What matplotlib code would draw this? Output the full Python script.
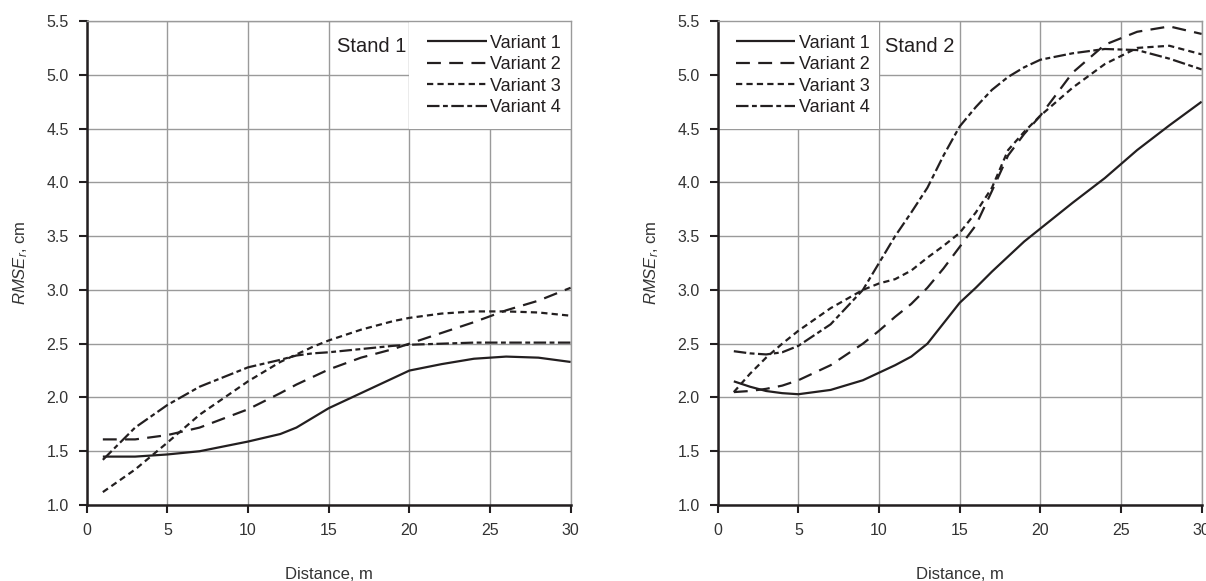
import matplotlib
matplotlib.use("Agg")
import matplotlib.pyplot as plt
from matplotlib.patches import Rectangle

dist_s1 = [1, 3, 5, 7, 10, 12, 13, 14, 15, 17, 19, 20, 22, 24, 26, 28, 30]
s1_v1 = [1.45, 1.45, 1.47, 1.50, 1.59, 1.66, 1.72, 1.81, 1.90, 2.04,
         2.18, 2.25, 2.31, 2.36, 2.38, 2.37, 2.33]
s1_v2 = [1.61, 1.61, 1.65, 1.72, 1.89, 2.04, 2.12, 2.19, 2.26, 2.37,
         2.45, 2.50, 2.60, 2.70, 2.81, 2.90, 3.02]
s1_v3 = [1.12, 1.33, 1.58, 1.84, 2.15, 2.33, 2.40, 2.47, 2.53, 2.63,
         2.71, 2.74, 2.78, 2.80, 2.80, 2.79, 2.76]
s1_v4 = [1.42, 1.72, 1.93, 2.10, 2.28, 2.35, 2.39, 2.41, 2.42, 2.45,
         2.48, 2.49, 2.50, 2.51, 2.51, 2.51, 2.51]

dist_s2 = [1, 2, 3, 4, 5, 7, 9, 10, 11, 12, 13, 14, 15, 16, 17, 18, 19,
           20, 22, 24, 26, 28, 30]
s2_v1 = [2.15, 2.10, 2.06, 2.04, 2.03, 2.07, 2.16, 2.23, 2.30, 2.38,
         2.50, 2.69, 2.88, 3.02, 3.17, 3.31, 3.45, 3.57, 3.81, 4.04,
         4.30, 4.53, 4.75]
s2_v2 = [2.05, 2.06, 2.08, 2.11, 2.16, 2.30, 2.50, 2.62, 2.75, 2.87,
         3.02, 3.20, 3.40, 3.60, 3.92, 4.25, 4.45, 4.62, 5.02, 5.28,
         5.40, 5.45, 5.38]
s2_v3 = [2.05, 2.22, 2.37, 2.50, 2.62, 2.83, 3.00, 3.06, 3.10, 3.18,
         3.30, 3.41, 3.53, 3.72, 3.95, 4.30, 4.47, 4.62, 4.88, 5.10,
         5.25, 5.27, 5.19]
s2_v4 = [2.43, 2.41, 2.40, 2.42, 2.48, 2.68, 3.00, 3.25, 3.50, 3.72,
         3.95, 4.25, 4.52, 4.70, 4.86, 4.98, 5.07, 5.14, 5.20, 5.24,
         5.23, 5.15, 5.05]

labels = ["Variant 1", "Variant 2", "Variant 3", "Variant 4"]
x_ticks = [0, 5, 10, 15, 20, 25, 30]
y_ticks = [1.0, 1.5, 2.0, 2.5, 3.0, 3.5, 4.0, 4.5, 5.0, 5.5]

plt.rcParams["font.family"] = ["Liberation Sans Narrow", "Liberation Sans",
                               "DejaVu Sans"]
plt.rcParams["mathtext.fontset"] = "custom"
plt.rcParams["mathtext.rm"] = "Liberation Sans"
plt.rcParams["mathtext.it"] = "Liberation Sans:italic"
plt.rcParams["lines.scale_dashes"] = False

ink = "#231f20"
grid_col = "#9a9a9a"
styles = [
    dict(linestyle="-"),
    dict(linestyle=(0, (10, 6))),
    dict(linestyle=(0, (4.5, 3))),
    dict(linestyle=(0, (9, 2.5, 3.5, 2.5))),
]

fig = plt.figure(figsize=(12.06, 5.81), dpi=100)
ax1 = fig.add_axes([0.0719, 0.1308, 0.4013, 0.833])
ax2 = fig.add_axes([0.5951, 0.1308, 0.4013, 0.833])


def draw_panel(ax, dist, series, title, box_x, title_x, leg_x):
    ax.set_axisbelow(True)
    for ys, st, lab in zip(series, styles, labels):
        ax.plot(dist, ys, color=ink, linewidth=1.6, label=lab,
                solid_capstyle="butt", dash_capstyle="butt", **st)
    ax.set_xlim(0, 30)
    ax.set_ylim(1.0, 5.5)
    ax.set_xticks(x_ticks)
    ax.set_yticks(y_ticks)
    ax.set_yticklabels(["%.1f" % v for v in y_ticks])
    ax.grid(True, color=grid_col, linewidth=1.0)
    # white block that holds the legend
    ax.add_patch(Rectangle((box_x, 4.5), 10, 1.0, facecolor="white",
                           edgecolor="none", zorder=1))
    for side in ("top", "right"):
        ax.spines[side].set_color(grid_col)
        ax.spines[side].set_linewidth(1.0)
    for side in ("left", "bottom"):
        ax.spines[side].set_color(ink)
        ax.spines[side].set_linewidth(1.8)
    ax.tick_params(direction="out", length=6, width=1.5, color=ink,
                   labelsize=11.5, labelcolor="#333333", pad=7)
    ax.text(title_x, 5.26, title, fontsize=14.5, color=ink,
            ha="left", va="center")
    ax.legend(loc="upper left", bbox_to_anchor=(leg_x, 0.972),
              frameon=False, fontsize=13, handlelength=3.3,
              handletextpad=0.2, labelspacing=0.25, borderpad=0,
              borderaxespad=0, labelcolor=ink)
    ax.set_xlabel("Distance, m", fontsize=12, color="#333333",
                  labelpad=21)
    ax.set_ylabel(r"$\mathit{RMSE}_{r}$, cm", fontsize=12,
                  color="#333333", labelpad=12)


draw_panel(ax1, dist_s1, [s1_v1, s1_v2, s1_v3, s1_v4], "Stand 1",
           20, 15.5, 0.703)
draw_panel(ax2, dist_s2, [s2_v1, s2_v2, s2_v3, s2_v4], "Stand 2",
           0, 10.37, 0.037)

fig.savefig("out.png", dpi=100)
